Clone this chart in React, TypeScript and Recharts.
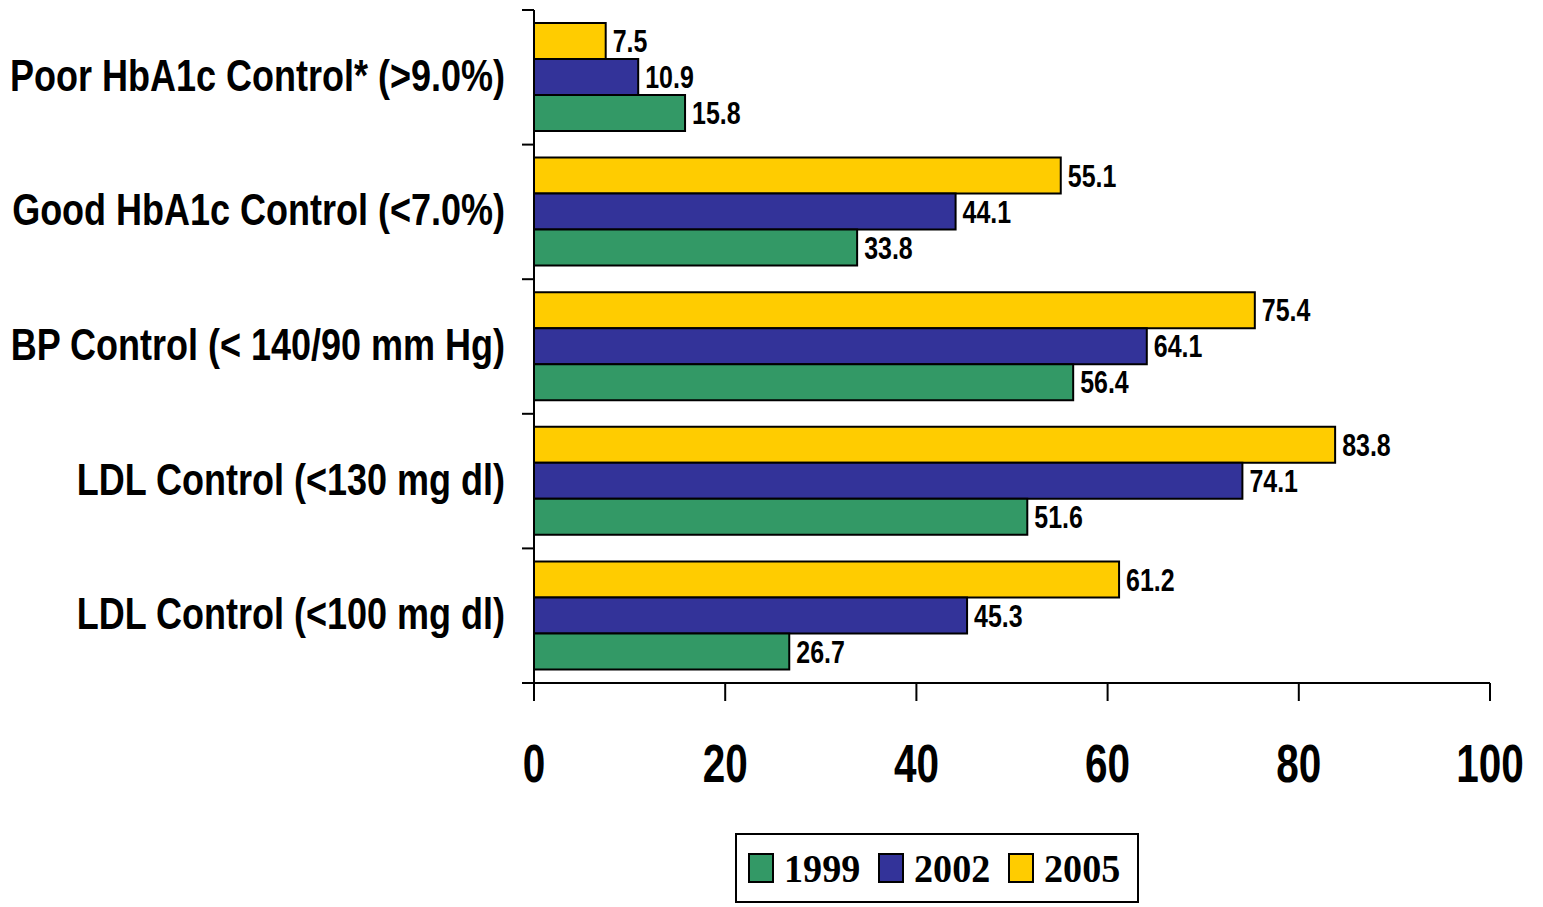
import React from 'react';
import { BarChart, Bar, XAxis, YAxis, Legend, LabelList } from 'recharts';

const categories = [
  'Poor HbA1c Control* (>9.0%)',
  'Good HbA1c Control (<7.0%)',
  'BP Control (< 140/90 mm Hg)',
  'LDL Control (<130 mg dl)',
  'LDL Control (<100 mg dl)',
];
const values1999 = [15.8, 33.8, 56.4, 51.6, 26.7];
const values2002 = [10.9, 44.1, 64.1, 74.1, 45.3];
const values2005 = [7.5, 55.1, 75.4, 83.8, 61.2];
const xTicks = [0, 20, 40, 60, 80, 100];

const data = categories.map((name, i) => ({
  name,
  y1999: values1999[i],
  y2002: values2002[i],
  y2005: values2005[i],
}));

const W = 1543;
const H = 907;
const MARGIN = { top: 10, right: 53, left: 0, bottom: 2 };
const Y_AXIS_W = 534;
const X_AXIS_H = 150;
const LEGEND_H = 72;
const PLOT_H = H - MARGIN.top - MARGIN.bottom - LEGEND_H - X_AXIS_H;
const BAND = PLOT_H / categories.length;

// Liberation Sans squeezed horizontally stands in for Arial Narrow
const sans = "'Liberation Sans', Arial, sans-serif";
const serif = "'Liberation Serif', 'Times New Roman', serif";

const COLORS = { y1999: '#339966', y2002: '#333399', y2005: '#FFCC00' };

const NarrowText = ({ x, y, sx, size, anchor, baseline, dy, children }: any) => (
  <g transform={`translate(${x},${y}) scale(${sx},1)`}>
    <text
      x={0}
      y={0}
      dy={dy}
      textAnchor={anchor}
      dominantBaseline={baseline}
      fontFamily={sans}
      fontWeight="bold"
      fontSize={size}
      fill="#000"
    >
      {children}
    </text>
  </g>
);

const CategoryTick = (props: any) => {
  const { x, y, payload, index } = props;
  const axisX = Y_AXIS_W;
  const half = BAND / 2;
  return (
    <g>
      <line x1={axisX - 12} x2={axisX} y1={y - half} y2={y - half} stroke="#000" strokeWidth={2} />
      {index === categories.length - 1 && (
        <line x1={axisX - 12} x2={axisX} y1={y + half} y2={y + half} stroke="#000" strokeWidth={2} />
      )}
      <NarrowText x={x} y={y - 2} sx={0.8} size={45} anchor="end" baseline="central">
        {payload.value}
      </NarrowText>
    </g>
  );
};

const ValueTick = (props: any) => {
  const { x, y, payload } = props;
  return (
    <NarrowText x={x} y={y} sx={0.75} size={54} anchor="middle" dy="0.72em">
      {payload.value}
    </NarrowText>
  );
};

const BarValue = (props: any) => {
  const { x, y, width, height, value } = props;
  return (
    <NarrowText x={x + width + 7} y={y + height / 2} sx={0.78} size={32} anchor="start" baseline="central">
      {Number(value).toFixed(1)}
    </NarrowText>
  );
};

const LegendBox = () => {
  const items = [
    { key: 'y1999', label: '1999' },
    { key: 'y2002', label: '2002' },
    { key: 'y2005', label: '2005' },
  ];
  return (
    <div
      style={{
        border: '2px solid #000',
        height: 70,
        boxSizing: 'border-box',
        display: 'flex',
        alignItems: 'center',
        paddingLeft: 11,
        fontFamily: serif,
        fontWeight: 'bold',
        fontSize: 41,
        background: '#fff',
      }}
    >
      {items.map((it) => (
        <div key={it.key} style={{ display: 'flex', alignItems: 'center', marginRight: 14 }}>
          <span
            style={{
              display: 'inline-block',
              width: 22,
              height: 26,
              background: (COLORS as any)[it.key],
              border: '2px solid #000',
              marginRight: 10,
            }}
          />
          <span style={{ lineHeight: 1, display: 'inline-block', width: 80 }}>
            <span style={{ display: 'inline-block', transform: 'scaleX(0.93)', transformOrigin: 'left' }}>
              {it.label}
            </span>
          </span>
        </div>
      ))}
    </div>
  );
};

export default function App() {
  return (
    <div style={{ position: 'absolute', left: 0, top: 0, width: W, height: H, background: '#fff' }}>
      <BarChart
        width={W}
        height={H}
        data={data}
        layout="vertical"
        margin={MARGIN}
        barGap={0}
        barSize={36}
      >
        <XAxis
          type="number"
          domain={[0, 100]}
          ticks={xTicks}
          height={X_AXIS_H}
          axisLine={{ stroke: '#000', strokeWidth: 2 }}
          tickLine={{ stroke: '#000', strokeWidth: 2 }}
          tickSize={18}
          tickMargin={42}
          tick={<ValueTick />}
        />
        <YAxis
          type="category"
          dataKey="name"
          width={Y_AXIS_W}
          axisLine={{ stroke: '#000', strokeWidth: 2 }}
          tickLine={false}
          tickSize={12}
          tickMargin={17}
          tick={<CategoryTick />}
          interval={0}
        />
        <Legend
          verticalAlign="bottom"
          height={LEGEND_H}
          wrapperStyle={{ left: 735, width: 404, bottom: MARGIN.bottom }}
          content={<LegendBox />}
        />
        <Bar dataKey="y2005" name="2005" fill={COLORS.y2005} stroke="#000" strokeWidth={2} isAnimationActive={false}>
          <LabelList dataKey="y2005" content={<BarValue />} />
        </Bar>
        <Bar dataKey="y2002" name="2002" fill={COLORS.y2002} stroke="#000" strokeWidth={2} isAnimationActive={false}>
          <LabelList dataKey="y2002" content={<BarValue />} />
        </Bar>
        <Bar dataKey="y1999" name="1999" fill={COLORS.y1999} stroke="#000" strokeWidth={2} isAnimationActive={false}>
          <LabelList dataKey="y1999" content={<BarValue />} />
        </Bar>
      </BarChart>
    </div>
  );
}
